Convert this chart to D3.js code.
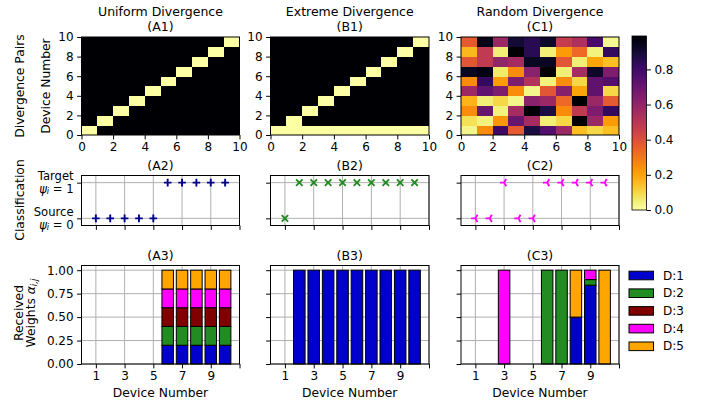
<!DOCTYPE html>
<html><head><meta charset="utf-8">
<script src="https://cdn.jsdelivr.net/npm/d3@7/dist/d3.min.js"></script>
<style>
body{margin:0;background:#fff}
text{font-family:"DejaVu Sans",sans-serif;fill:#000}
</style>
</head><body>
<svg id="chart" width="710" height="402"></svg>
<script>
// ---------------- DATA ----------------
const devices = [1,2,3,4,5,6,7,8,9,10];
const sources = ["D:1","D:2","D:3","D:4","D:5"];
const columnTitles = ["Uniform Divergence","Extreme Divergence","Random Divergence"];
const panelTags = [["(A1)","(B1)","(C1)"],["(A2)","(B2)","(C2)"],["(A3)","(B3)","(C3)"]];
const heatTicks = [0,2,4,6,8,10];
const devTicks = [1,3,5,7,9,11];
const devTickLabels = ["1","3","5","7","9",""];
const weightTicks = [0,0.25,0.5,0.75,1.0];
const colorbarTicks = [0,0.2,0.4,0.6,0.8];
const colorMax = 0.99;

// divergence matrices, rows listed from device 0 (bottom) to 9 (top)
const uniformDiv = [
 [0,1,1,1,1,1,1,1,1,1],
 [1,0,1,1,1,1,1,1,1,1],
 [1,1,0,1,1,1,1,1,1,1],
 [1,1,1,0,1,1,1,1,1,1],
 [1,1,1,1,0,1,1,1,1,1],
 [1,1,1,1,1,0,1,1,1,1],
 [1,1,1,1,1,1,0,1,1,1],
 [1,1,1,1,1,1,1,0,1,1],
 [1,1,1,1,1,1,1,1,0,1],
 [1,1,1,1,1,1,1,1,1,0]
];
const extremeDiv = [
 [0,0,0,0,0,0,0,0,0,0],
 [1,0,1,1,1,1,1,1,1,1],
 [1,1,0,1,1,1,1,1,1,1],
 [1,1,1,0,1,1,1,1,1,1],
 [1,1,1,1,0,1,1,1,1,1],
 [1,1,1,1,1,0,1,1,1,1],
 [1,1,1,1,1,1,0,1,1,1],
 [1,1,1,1,1,1,1,0,1,1],
 [1,1,1,1,1,1,1,1,0,1],
 [1,1,1,1,1,1,1,1,1,0]
];
const randomDiv = [
 [0.03,0.25,0.80,0.37,0.88,0.75,0.58,0.15,0.10,0.15],
 [0.08,0.04,0.23,0.70,0.55,0.05,0.10,0.99,0.58,0.22],
 [0.25,0.70,0.04,0.55,0.98,0.88,0.25,0.48,0.65,0.82],
 [0.17,0.05,0.10,0.03,0.62,0.58,0.33,0.99,0.58,0.37],
 [0.57,0.72,0.65,0.25,0.03,0.38,0.63,0.20,0.72,0.10],
 [0.25,0.82,0.22,0.65,0.52,0.04,0.25,0.10,0.72,0.75],
 [0.93,0.96,0.06,0.25,0.62,0.98,0.05,0.55,0.92,0.65],
 [0.38,0.48,0.60,0.55,0.93,0.93,0.38,0.05,0.20,0.15],
 [0.16,0.48,0.05,0.98,0.85,0.05,0.22,0.33,0.04,0.82],
 [0.37,0.95,0.58,0.90,0.85,0.92,0.47,0.53,0.78,0.02]
];

// classification psi per device
const uniformPsi = [0,0,0,0,0,1,1,1,1,1];
const extremePsi = [0,1,1,1,1,1,1,1,1,1];
const randomPsi  = [0,0,1,0,0,1,1,1,1,1];

// received weights per device: [D1..D5]
const uniformW = [
 [0,0,0,0,0],[0,0,0,0,0],[0,0,0,0,0],[0,0,0,0,0],[0,0,0,0,0],
 [0.2,0.2,0.2,0.2,0.2],[0.2,0.2,0.2,0.2,0.2],[0.2,0.2,0.2,0.2,0.2],[0.2,0.2,0.2,0.2,0.2],[0.2,0.2,0.2,0.2,0.2]
];
const extremeW = [
 [0,0,0,0,0],[1,0,0,0,0],[1,0,0,0,0],[1,0,0,0,0],[1,0,0,0,0],
 [1,0,0,0,0],[1,0,0,0,0],[1,0,0,0,0],[1,0,0,0,0],[1,0,0,0,0]
];
const randomW = [
 [0,0,0,0,0],[0,0,0,0,0],[0,0,0,1,0],[0,0,0,0,0],[0,0,0,0,0],
 [0,1,0,0,0],[0,1,0,0,0],[0.5,0,0,0,0.5],[0.84,0.06,0,0.10,0],[0,0,0,0,1]
];

// ---------------- STYLE / LAYOUT ----------------
const sourceColors = ["#0000cd","#228b22","#800000","#ff00ff","#ffa500"];
const markerColors = ["#00008b","#228b22","#ff00ff"];
const colX = [[81.5,239.5],[270.5,429],[461,619]];
const rowY = [[37,135],[175.5,225.5],[265.5,364]];
const TICK = 4.4, PAD = 3.5, FS_TICK = 12, FS_LAB = 12.3, FS_TITLE = 12.5;

const svg = d3.select("#chart");
const color = d3.scaleSequential(t => d3.interpolateInferno(1 - t)).domain([0, colorMax]).clamp(true);

function styleAxis(g) {
  g.select(".domain").remove();
  g.selectAll(".tick line").attr("stroke","#000").attr("stroke-width",1);
  g.selectAll(".tick text").attr("font-size",FS_TICK).attr("fill","#000");
}
function frame(x0,x1,y0,y1) {
  svg.append("rect").attr("x",x0).attr("y",y0).attr("width",x1-x0).attr("height",y1-y0)
    .attr("fill","none").attr("stroke","#000").attr("stroke-width",1);
}
function title(txt, cx, cy) {
  svg.append("text").attr("x",cx).attr("y",cy).attr("text-anchor","middle")
    .attr("dominant-baseline","central").attr("font-size",FS_TITLE).text(txt);
}
function vlabel(txt, x, cy) {
  return svg.append("text").attr("transform",`translate(${x},${cy}) rotate(-90)`)
    .attr("text-anchor","middle").attr("dominant-baseline","central").attr("font-size",FS_LAB).text(txt);
}

// ---------------- ROW 1 : heatmaps ----------------
const mats = [uniformDiv, extremeDiv, randomDiv];
mats.forEach((m, c) => {
  const [x0,x1] = colX[c], [y0,y1] = rowY[0];
  const x = d3.scaleLinear().domain([0,10]).range([x0,x1]);
  const y = d3.scaleLinear().domain([0,10]).range([y1,y0]);
  const cells = [];
  m.forEach((row,i) => row.forEach((v,j) => cells.push({i,j,v})));
  svg.append("g").selectAll("rect").data(cells).join("rect")
    .attr("x",d => x(d.j)).attr("y",d => y(d.i+1))
    .attr("width",d => x(d.j+1)-x(d.j)+0.3).attr("height",d => y(d.i)-y(d.i+1)+0.3)
    .attr("fill",d => color(d.v)).attr("shape-rendering","crispEdges");
  svg.append("g").attr("transform",`translate(0,${y1})`)
    .call(d3.axisBottom(x).tickValues(heatTicks).tickFormat(d3.format("d")).tickSize(TICK).tickPadding(PAD)).call(styleAxis);
  svg.append("g").attr("transform",`translate(${x0},0)`)
    .call(d3.axisLeft(y).tickValues(heatTicks).tickFormat(d3.format("d")).tickSize(TICK).tickPadding(PAD)).call(styleAxis);
  frame(x0,x1,y0,y1);
  title(columnTitles[c], (x0+x1)/2, 11);
  title(panelTags[0][c], (x0+x1)/2, 26);
});
vlabel("Divergence Pairs", 20, 86);
vlabel("Device Number", 46, 86);

// colorbar
{
  const cx0 = 632, cx1 = 646.5, cy0 = 36, cy1 = 210;
  const cy = d3.scaleLinear().domain([0,colorMax]).range([cy1,cy0]);
  const grad = svg.append("defs").append("linearGradient").attr("id","cbar")
    .attr("x1",0).attr("y1",1).attr("x2",0).attr("y2",0);
  d3.range(0,1.0001,0.05).forEach(t => grad.append("stop").attr("offset",t).attr("stop-color",color(t*colorMax)));
  svg.append("rect").attr("x",cx0).attr("y",cy0).attr("width",cx1-cx0).attr("height",cy1-cy0).attr("fill","url(#cbar)");
  svg.append("g").attr("transform",`translate(${cx1},0)`)
    .call(d3.axisRight(cy).tickValues(colorbarTicks).tickFormat(d3.format(".1f")).tickSize(TICK).tickPadding(PAD)).call(styleAxis);
  svg.append("rect").attr("x",cx0).attr("y",cy0).attr("width",cx1-cx0).attr("height",cy1-cy0)
    .attr("fill","none").attr("stroke","#000").attr("stroke-width",0.8);
}

// ---------------- ROW 2 : classification ----------------
const psis = [uniformPsi, extremePsi, randomPsi];
const markerPaths = [
  r => `M${-r},0H${r}M0,${-r}V${r}`,
  r => `M${-r*0.85},${-r*0.85}L${r*0.85},${r*0.85}M${-r*0.85},${r*0.85}L${r*0.85},${-r*0.85}`,
  r => `M0,0H${-r}M0,0L${r*0.5},${-r*0.866}M0,0L${r*0.5},${r*0.866}`
];
psis.forEach((p, c) => {
  const [x0,x1] = colX[c], [y0,y1] = rowY[1];
  const x = d3.scaleLinear().domain([0,11]).range([x0,x1]);
  const y = d3.scaleLinear().domain([-0.2,1.2]).range([y1,y0]);
  const grid = svg.append("g").attr("stroke","#b0b0b0").attr("stroke-width",1);
  devTicks.forEach(t => grid.append("line").attr("x1",x(t)).attr("x2",x(t)).attr("y1",y0).attr("y2",y1));
  [0,1].forEach(t => grid.append("line").attr("x1",x0).attr("x2",x1).attr("y1",y(t)).attr("y2",y(t)));
  svg.append("g").selectAll("path").data(p.map((v,i)=>({d:devices[i],v}))).join("path")
    .attr("transform",d => `translate(${x(d.d)},${y(d.v)})`)
    .attr("d", markerPaths[c](c===2?4.2:3.8))
    .attr("fill","none").attr("stroke",markerColors[c]).attr("stroke-width",1.9);
  svg.append("g").attr("transform",`translate(0,${y1})`)
    .call(d3.axisBottom(x).tickValues(devTicks).tickFormat("").tickSize(TICK)).call(styleAxis);
  svg.append("g").attr("transform",`translate(${x0},0)`)
    .call(d3.axisLeft(y).tickValues([0,1]).tickFormat("").tickSize(TICK)).call(styleAxis);
  frame(x0,x1,y0,y1);
  title(panelTags[1][c], (x0+x1)/2, 165);
  if (c === 0) {
    [["Target",1],["Source",0]].forEach(([lbl,v]) => {
      const tx = x0 - TICK - PAD, ty = y(v);
      svg.append("text").attr("x",tx).attr("y",ty-6.3).attr("text-anchor","end")
        .attr("dominant-baseline","central").attr("font-size",11.6).text(lbl);
      const t2 = svg.append("text").attr("x",tx).attr("y",ty+6.3).attr("text-anchor","end")
        .attr("dominant-baseline","central").attr("font-size",11.6);
      t2.append("tspan").attr("font-style","italic").text("ψ");
      t2.append("tspan").attr("font-size",8.2).attr("font-style","italic").attr("dy",2.2).text("i");
      t2.append("tspan").attr("dy",-2.2).text(` = ${v}`);
    });
  }
});
vlabel("Classification", 20, 200);

// ---------------- ROW 3 : received weights ----------------
const weights = [uniformW, extremeW, randomW];
const stack = d3.stack().keys(d3.range(5)).value((d,k) => d.w[k]);
weights.forEach((w, c) => {
  const [x0,x1] = colX[c], [y0,y1] = rowY[2];
  const x = d3.scaleLinear().domain([0,11]).range([x0,x1]);
  const y = d3.scaleLinear().domain([0,1.05]).range([y1,y0]);
  const grid = svg.append("g").attr("stroke","#b0b0b0").attr("stroke-width",1);
  devTicks.forEach(t => grid.append("line").attr("x1",x(t)).attr("x2",x(t)).attr("y1",y0).attr("y2",y1));
  weightTicks.forEach(t => grid.append("line").attr("x1",x0).attr("x2",x1).attr("y1",y(t)).attr("y2",y(t)));
  const series = stack(w.map((v,i) => ({d:devices[i], w:v})));
  const bw = 0.8;
  svg.append("g").selectAll("g").data(series).join("g")
    .attr("fill",(s) => sourceColors[s.key])
    .selectAll("rect").data(s => s.filter(seg => seg[1]-seg[0] > 0)).join("rect")
      .attr("x",seg => x(seg.data.d - bw/2)).attr("width",x(bw)-x(0))
      .attr("y",seg => y(seg[1])).attr("height",seg => y(seg[0])-y(seg[1]))
      .attr("stroke","#000").attr("stroke-width",1);
  svg.append("g").attr("transform",`translate(0,${y1})`)
    .call(d3.axisBottom(x).tickValues(devTicks).tickFormat((d,i) => devTickLabels[i]).tickSize(TICK).tickPadding(PAD)).call(styleAxis);
  svg.append("g").attr("transform",`translate(${x0},0)`)
    .call(d3.axisLeft(y).tickValues(weightTicks).tickFormat(c===0 ? d3.format(".2f") : "").tickSize(TICK).tickPadding(PAD)).call(styleAxis);
  frame(x0,x1,y0,y1);
  title(panelTags[2][c], (x0+x1)/2, 255);
  svg.append("text").attr("x",(x0+x1)/2).attr("y",393).attr("text-anchor","middle")
    .attr("dominant-baseline","central").attr("font-size",FS_LAB).text("Device Number");
});
vlabel("Received", 18.5, 313);
{
  const t = svg.append("text").attr("transform","translate(31,313) rotate(-90)")
    .attr("text-anchor","middle").attr("dominant-baseline","central").attr("font-size",FS_LAB);
  t.append("tspan").text("Weights ");
  t.append("tspan").attr("font-style","italic").text("α");
  t.append("tspan").attr("font-size",8.6).attr("font-style","italic").attr("dy",2.8).text("i,j");
}

// legend
const lg = svg.append("g");
sources.forEach((s,i) => {
  const cy = 275.5 + i*17.7;
  lg.append("rect").attr("x",629).attr("y",cy-4.3).attr("width",24.5).attr("height",8.6)
    .attr("fill",sourceColors[i]).attr("stroke","#000").attr("stroke-width",1);
  lg.append("text").attr("x",663).attr("y",cy).attr("dominant-baseline","central")
    .attr("font-size",FS_TICK).text(s);
});
</script>
</body></html>
